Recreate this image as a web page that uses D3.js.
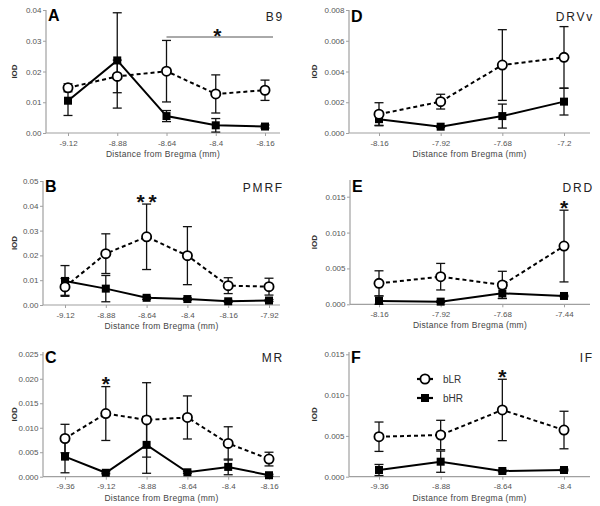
<!DOCTYPE html>
<html><head><meta charset="utf-8">
<script src="https://cdn.jsdelivr.net/npm/d3@7"></script>
<style>body{margin:0;background:#fff}svg{display:block}</style>
</head><body>
<svg id="chart" width="600" height="506"></svg>
<script>
// ---------- DATA ----------
const catsA = ["-9.12","-8.88","-8.64","-8.4","-8.16"];
const bLR_A = [0.0147,0.0184,0.0201,0.0127,0.0139];
const bLR_A_err = [0.0013,0.0053,0.0100,0.0062,0.0033];
const bHR_A = [0.0105,0.0236,0.0055,0.0025,0.0021];
const bHR_A_err = [0.0048,0.0155,0.0018,0.0022,0.0005];
const ticksA = [0,0.01,0.02,0.03,0.04];

const catsB = ["-9.12","-8.88","-8.64","-8.4","-8.16","-7.92"];
const bLR_B = [0.0073,0.0207,0.0275,0.0199,0.0078,0.0074];
const bLR_B_err = [0.0034,0.0080,0.0132,0.0117,0.0032,0.0034];
const bHR_B = [0.0097,0.0066,0.0029,0.0024,0.0015,0.0018];
const bHR_B_err = [0.0062,0.0053,0.0006,0.0005,0.0004,0.0004];
const ticksB = [0,0.01,0.02,0.03,0.04,0.05];

const catsC = ["-9.36","-9.12","-8.88","-8.64","-8.4","-8.16"];
const bLR_C = [0.0078,0.0129,0.0116,0.0121,0.0068,0.0036];
const bLR_C_err = [0.0029,0.0055,0.0076,0.0044,0.0034,0.0014];
const bHR_C = [0.0041,0.0008,0.0065,0.0009,0.0020,0.0003];
const bHR_C_err = [0.0033,0.0002,0.0058,0.0002,0.0016,0.0002];
const ticksC = [0,0.005,0.010,0.015,0.020,0.025];

const catsD = ["-8.16","-7.92","-7.68","-7.2"];
const bLR_D = [0.00122,0.00204,0.00442,0.00492];
const bLR_D_err = [0.00075,0.00048,0.00230,0.00200];
const bHR_D = [0.00090,0.00041,0.00110,0.00204];
const bHR_D_err = [0.00040,0.00005,0.00078,0.00087];
const ticksD = [0,0.002,0.004,0.006,0.008];

const catsE = ["-8.16","-7.92","-7.68","-7.44"];
const bLR_E = [0.00292,0.00385,0.00270,0.00812];
const bLR_E_err = [0.00175,0.00185,0.00190,0.00500];
const bHR_E = [0.00046,0.00037,0.00153,0.00116];
const bHR_E_err = [0.00070,0.00010,0.00070,0.00010];
const ticksE = [0,0.005,0.010,0.015];

const catsF = ["-9.36","-8.88","-8.64","-8.4"];
const bLR_F = [0.00490,0.00511,0.00818,0.00572];
const bLR_F_err = [0.00180,0.00180,0.00376,0.00230];
const bHR_F = [0.00082,0.00184,0.00070,0.00082];
const bHR_F_err = [0.00068,0.00130,0.00010,0.00010];
const ticksF = [0,0.005,0.010,0.015];

const seriesNames = ["bLR","bHR"];
const xTitle = "Distance from Bregma (mm)";
const yTitle = "IOD";

// ---------- LAYOUT ----------
const panels = [
  {letter:"A", region:"B9", cats:catsA, lr:bLR_A, lrE:bLR_A_err, hr:bHR_A, hrE:bHR_A_err, ticks:ticksA, fmt:".2f",
   ax0:46, ax1:280, x0:68, x1:265, y0:133, yTop:10, axTop:10, letterY:21, regionY:21,
   stars:[{cat:null, dx:0, y:43, txt:"*", ls:1}], sig:{from:"-8.64", to:273, y:37}},
  {letter:"B", region:"PMRF", cats:catsB, lr:bLR_B, lrE:bLR_B_err, hr:bHR_B, hrE:bHR_B_err, ticks:ticksB, fmt:".2f",
   ax0:43, ax1:280, x0:65, x1:269, y0:305, yTop:181, axTop:181, letterY:192, regionY:192,
   stars:[{cat:"-8.64", dx:2, y:209, txt:"**", ls:4}]},
  {letter:"C", region:"MR", cats:catsC, lr:bLR_C, lrE:bLR_C_err, hr:bHR_C, hrE:bHR_C_err, ticks:ticksC, fmt:".3f",
   ax0:43, ax1:280, x0:65, x1:269, y0:476.7, yTop:354.3, axTop:352, letterY:363, regionY:362,
   stars:[{cat:"-9.12", dx:0, y:391, txt:"*", ls:0}]},
  {letter:"D", region:"DRVv", cats:catsD, lr:bLR_D, lrE:bLR_D_err, hr:bHR_D, hrE:bHR_D_err, ticks:ticksD, fmt:".3f",
   ax0:349, ax1:590, x0:379, x1:564, y0:133, yTop:10, axTop:10, letterY:22, regionY:21, stars:[]},
  {letter:"E", region:"DRD", cats:catsE, lr:bLR_E, lrE:bLR_E_err, hr:bHR_E, hrE:bHR_E_err, ticks:ticksE, fmt:".3f",
   ax0:350, ax1:590, x0:379, x1:564, y0:304.3, yTop:196.7, axTop:180, letterY:192, regionY:192,
   stars:[{cat:"-7.44", dx:0, y:215, txt:"*", ls:0}]},
  {letter:"F", region:"IF", cats:catsF, lr:bLR_F, lrE:bLR_F_err, hr:bHR_F, hrE:bHR_F_err, ticks:ticksF, fmt:".3f",
   ax0:349, ax1:590, x0:379, x1:564, y0:476.7, yTop:354.3, axTop:352, letterY:363, regionY:362,
   stars:[{cat:"-8.64", dx:0, y:384, txt:"*", ls:0}], legend:true},
];

const svg = d3.select("#chart");
const FONT = "'Liberation Sans', Arial, sans-serif";
const AXC = "#a0a0a0";

panels.forEach(p => {
  const g = svg.append("g");
  const x = d3.scalePoint().domain(p.cats).range([p.x0, p.x1]);
  const yMax = p.ticks[p.ticks.length-1];
  const y = d3.scaleLinear().domain([0, yMax]).range([p.y0, p.yTop]);

  // axes
  const xa = g.append("g").attr("transform",`translate(0,${p.y0})`)
    .call(d3.axisBottom(x).tickSize(3).tickSizeOuter(0).tickPadding(4));
  xa.select(".domain").remove();
  xa.selectAll("line").attr("stroke",AXC);
  xa.selectAll("text").attr("font-family",FONT).attr("font-size","8px").attr("fill","#555");
  g.append("line").attr("x1",p.ax0).attr("x2",p.ax1).attr("y1",p.y0).attr("y2",p.y0).attr("stroke",AXC).attr("stroke-width",1.2);

  const ya = g.append("g").attr("transform",`translate(${p.ax0},0)`)
    .call(d3.axisLeft(y).tickValues(p.ticks).tickFormat(d3.format(p.fmt)).tickSize(3).tickSizeOuter(0).tickPadding(1.5));
  ya.select(".domain").remove();
  ya.selectAll("line").attr("stroke",AXC);
  ya.selectAll("text").attr("font-family",FONT).attr("font-size","8px").attr("fill","#555");
  g.append("line").attr("x1",p.ax0).attr("x2",p.ax0).attr("y1",p.axTop).attr("y2",p.y0).attr("stroke",AXC).attr("stroke-width",1.2);

  // titles
  g.append("text").attr("x",(p.ax0+p.ax1)/2).attr("y",p.y0+24).attr("text-anchor","middle")
    .attr("font-family",FONT).attr("font-size","8.5px").attr("fill","#444").attr("letter-spacing","0.3px").text(xTitle);
  const yc = (p.axTop+p.y0)/2;
  const yx = p.ax0 < 300 ? 14 : 314;
  g.append("text").attr("transform",`translate(${yx+3},${yc}) rotate(-90)`).attr("text-anchor","middle")
    .attr("font-family",FONT).attr("font-size","8px").attr("font-weight","bold").attr("fill","#333").text(yTitle);

  g.append("text").attr("x",p.ax0+2).attr("y",p.letterY).attr("font-family",FONT).attr("font-size","16px")
    .attr("font-weight","bold").attr("fill","#000").text(p.letter);
  g.append("text").attr("x",p.ax1+4).attr("y",p.regionY).attr("text-anchor","end").attr("font-family",FONT)
    .attr("font-size","12px").attr("letter-spacing","1.8px").attr("fill","#222").text(p.region);

  // error bars
  const drawErr = (vals, errs) => {
    vals.forEach((v,i) => {
      const cx = x(p.cats[i]), e = errs[i];
      const top = y(v+e), bot = y(Math.max(0,v-e));
      g.append("line").attr("x1",cx).attr("x2",cx).attr("y1",top).attr("y2",bot).attr("stroke","#111").attr("stroke-width",1.3);
      [top,bot].forEach(yy => g.append("line").attr("x1",cx-4.5).attr("x2",cx+4.5).attr("y1",yy).attr("y2",yy).attr("stroke","#111").attr("stroke-width",1.3));
    });
  };
  drawErr(p.hr, p.hrE);
  drawErr(p.lr, p.lrE);

  const line = d3.line().x((d,i)=>x(p.cats[i])).y(d=>y(d));
  g.append("path").datum(p.hr).attr("d",line).attr("fill","none").attr("stroke","#000").attr("stroke-width",2);
  g.append("path").datum(p.lr).attr("d",line).attr("fill","none").attr("stroke","#000").attr("stroke-width",2).attr("stroke-dasharray","4,3");

  p.hr.forEach((v,i)=> g.append("rect").attr("x",x(p.cats[i])-4).attr("y",y(v)-4).attr("width",8).attr("height",8).attr("fill","#000"));
  p.lr.forEach((v,i)=> g.append("circle").attr("cx",x(p.cats[i])).attr("cy",y(v)).attr("r",4.6).attr("fill","#fff").attr("stroke","#000").attr("stroke-width",1.8));

  // significance
  if (p.sig) {
    g.append("line").attr("x1",x(p.sig.from)).attr("x2",p.sig.to).attr("y1",p.sig.y).attr("y2",p.sig.y).attr("stroke","#555").attr("stroke-width",1);
  }
  p.stars.forEach(s => {
    const sx = s.cat === null ? (x(p.sig.from)+p.sig.to)/2 - 2 : x(s.cat)+s.dx;
    g.append("text").attr("x",sx).attr("y",s.y).attr("text-anchor","middle").attr("font-family",FONT)
      .attr("font-size","21px").attr("font-weight","bold").attr("letter-spacing",s.ls+"px").attr("fill","#111").text(s.txt);
  });

  if (p.legend) {
    const items = [{name:seriesNames[0], y:379, circle:true},{name:seriesNames[1], y:398, circle:false}];
    items.forEach(it => {
      g.append("line").attr("x1",417).attr("x2",433).attr("y1",it.y).attr("y2",it.y).attr("stroke","#000").attr("stroke-width",2.2);
      if (it.circle) g.append("circle").attr("cx",425).attr("cy",it.y).attr("r",4.6).attr("fill","#fff").attr("stroke","#000").attr("stroke-width",1.8);
      else g.append("rect").attr("x",421).attr("y",it.y-4).attr("width",8).attr("height",8).attr("fill","#000");
      g.append("text").attr("x",443).attr("y",it.y+3.5).attr("font-family",FONT).attr("font-size","10px").attr("fill","#333").text(it.name);
    });
  }
});
</script>
</body></html>
